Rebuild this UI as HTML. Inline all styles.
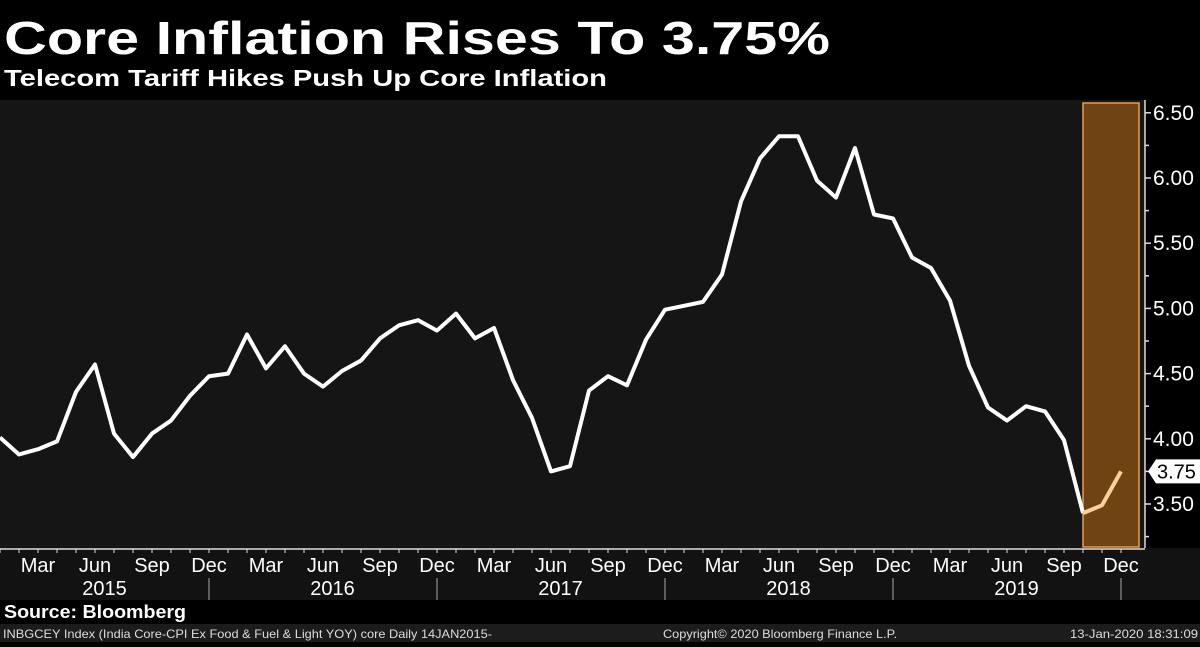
<!DOCTYPE html>
<html><head><meta charset="utf-8"><style>
body{margin:0;background:#000;width:1200px;height:642px;overflow:hidden;font-family:"Liberation Sans",sans-serif;}
svg text{font-family:"Liberation Sans",sans-serif;}
</style></head><body>
<svg id="chart" width="1200" height="642" viewBox="0 0 1200 642" xmlns="http://www.w3.org/2000/svg">
<rect width="1200" height="642" fill="#000"/>
<text x="4" y="54" fill="#fff" font-size="46" font-weight="bold" textLength="826" lengthAdjust="spacingAndGlyphs">Core Inflation Rises To 3.75%</text>
<text x="4" y="86" fill="#fff" font-size="23" font-weight="bold" textLength="603" lengthAdjust="spacingAndGlyphs">Telecom Tariff Hikes Push Up Core Inflation</text>
<rect x="0" y="100" width="1145" height="448" fill="#151515"/>
<rect x="0" y="548" width="1200" height="52" fill="#121212"/>
<rect x="0" y="624" width="1200" height="18" fill="#1c1c1c"/>
<g id="shade"></g>
<g id="axes"></g>
<polyline id="line-main" fill="none" stroke="#fff" stroke-width="4" stroke-linejoin="round"/>
<polyline id="line-hl" fill="none" stroke="#f8d29a" stroke-width="4" stroke-linejoin="round"/>
<g id="lastlabel"></g>
<text x="4" y="618" fill="#fff" font-size="18" font-weight="bold" textLength="182" lengthAdjust="spacingAndGlyphs">Source: Bloomberg</text>
<text x="3" y="638" fill="#ddd" font-size="12" textLength="489" lengthAdjust="spacingAndGlyphs">INBGCEY Index (India Core-CPI Ex Food &amp; Fuel &amp; Light YOY) core  Daily 14JAN2015-</text>
<text x="663" y="638" fill="#ddd" font-size="12" textLength="234" lengthAdjust="spacingAndGlyphs">Copyright© 2020 Bloomberg Finance L.P.</text>
<text x="1070" y="638" fill="#ddd" font-size="12" textLength="128" lengthAdjust="spacingAndGlyphs">13-Jan-2020 18:31:09</text>
</svg>
<script>
const values=[4.01,3.88,3.92,3.98,4.36,4.57,4.04,3.86,4.04,4.14,4.33,4.48,
4.50,4.80,4.54,4.71,4.50,4.40,4.52,4.60,4.77,4.87,4.91,4.83,
4.96,4.77,4.85,4.45,4.16,3.75,3.79,4.37,4.48,4.41,4.76,4.99,
5.02,5.05,5.26,5.82,6.15,6.32,6.32,5.98,5.85,6.23,5.72,5.69,
5.39,5.31,5.06,4.56,4.24,4.14,4.25,4.21,3.99,3.43,3.49,3.75];
const years=["2015","2016","2017","2018","2019"];
const monthLabels=["Mar","Jun","Sep","Dec"];
const yTicks=[3.5,4.0,4.5,5.0,5.5,6.0,6.5];
const highlightStart=57;
const NS="http://www.w3.org/2000/svg";
const x=i=>i*19;
const y=v=>504-(v-3.5)*130.4;
function mk(tag,attrs,parent){const e=document.createElementNS(NS,tag);for(const k in attrs)e.setAttribute(k,attrs[k]);parent.appendChild(e);return e;}
const axes=document.getElementById('axes');
const shade=document.getElementById('shade');
const sh=mk('rect',{x:x(highlightStart),y:103,width:56,height:444,fill:'#704312',stroke:'#e8a050','stroke-width':1.5},shade);


const yl=mk('line',{x1:1145,y1:100,x2:1145,y2:548,stroke:'#ddd','stroke-width':1.5},axes);


for(let v=3.25;v<=6.5;v+=0.25){mk('line',{x1:1145,y1:y(v),x2:v*4%2==0?1151:1149,y2:y(v),stroke:'#ddd','stroke-width':1.5},axes);}
yTicks.forEach(v=>{const t=mk('text',{x:1153,y:y(v)+7,fill:'#fff','font-size':21},axes);t.textContent=v.toFixed(2);

});
const xl=mk('line',{x1:0,y1:549,x2:1145,y2:549,stroke:'#ddd','stroke-width':1.5},axes);


for(let i=0;i<values.length;i++){mk('line',{x1:x(i),y1:549,x2:x(i),y2:553,stroke:'#ddd','stroke-width':1},axes);}
for(let i=2;i<values.length;i+=3){const t=mk('text',{x:x(i),y:572,fill:'#fff','font-size':20,'text-anchor':'middle'},axes);t.textContent=monthLabels[((i-2)/3)%4];

}
years.forEach((yr,k)=>{const t=mk('text',{x:x(k*12+5.5),y:595,fill:'#fff','font-size':20,'text-anchor':'middle'},axes);t.textContent=yr;


mk('line',{x1:x(k*12+11),y1:578,x2:x(k*12+11),y2:600,stroke:'#aaa','stroke-width':1},axes);});
document.getElementById('line-main').setAttribute('points',values.slice(0,highlightStart+1).map((v,i)=>x(i)+','+y(v)).join(' '));
document.getElementById('line-hl').setAttribute('points',values.slice(highlightStart).map((v,i)=>x(i+highlightStart)+','+y(v)).join(' '));
const last=values[values.length-1];const ly=y(last);
const g=document.getElementById('lastlabel');
const p=mk('path',{d:`M1148 ${ly} L1156 ${ly-12} L1200 ${ly-12} L1200 ${ly+12} L1156 ${ly+12} Z`,fill:'#fff'},g);


const lt=mk('text',{x:1157,y:ly+7,fill:'#000','font-size':20},g);lt.textContent=last.toFixed(2);


</script>
</body></html>
